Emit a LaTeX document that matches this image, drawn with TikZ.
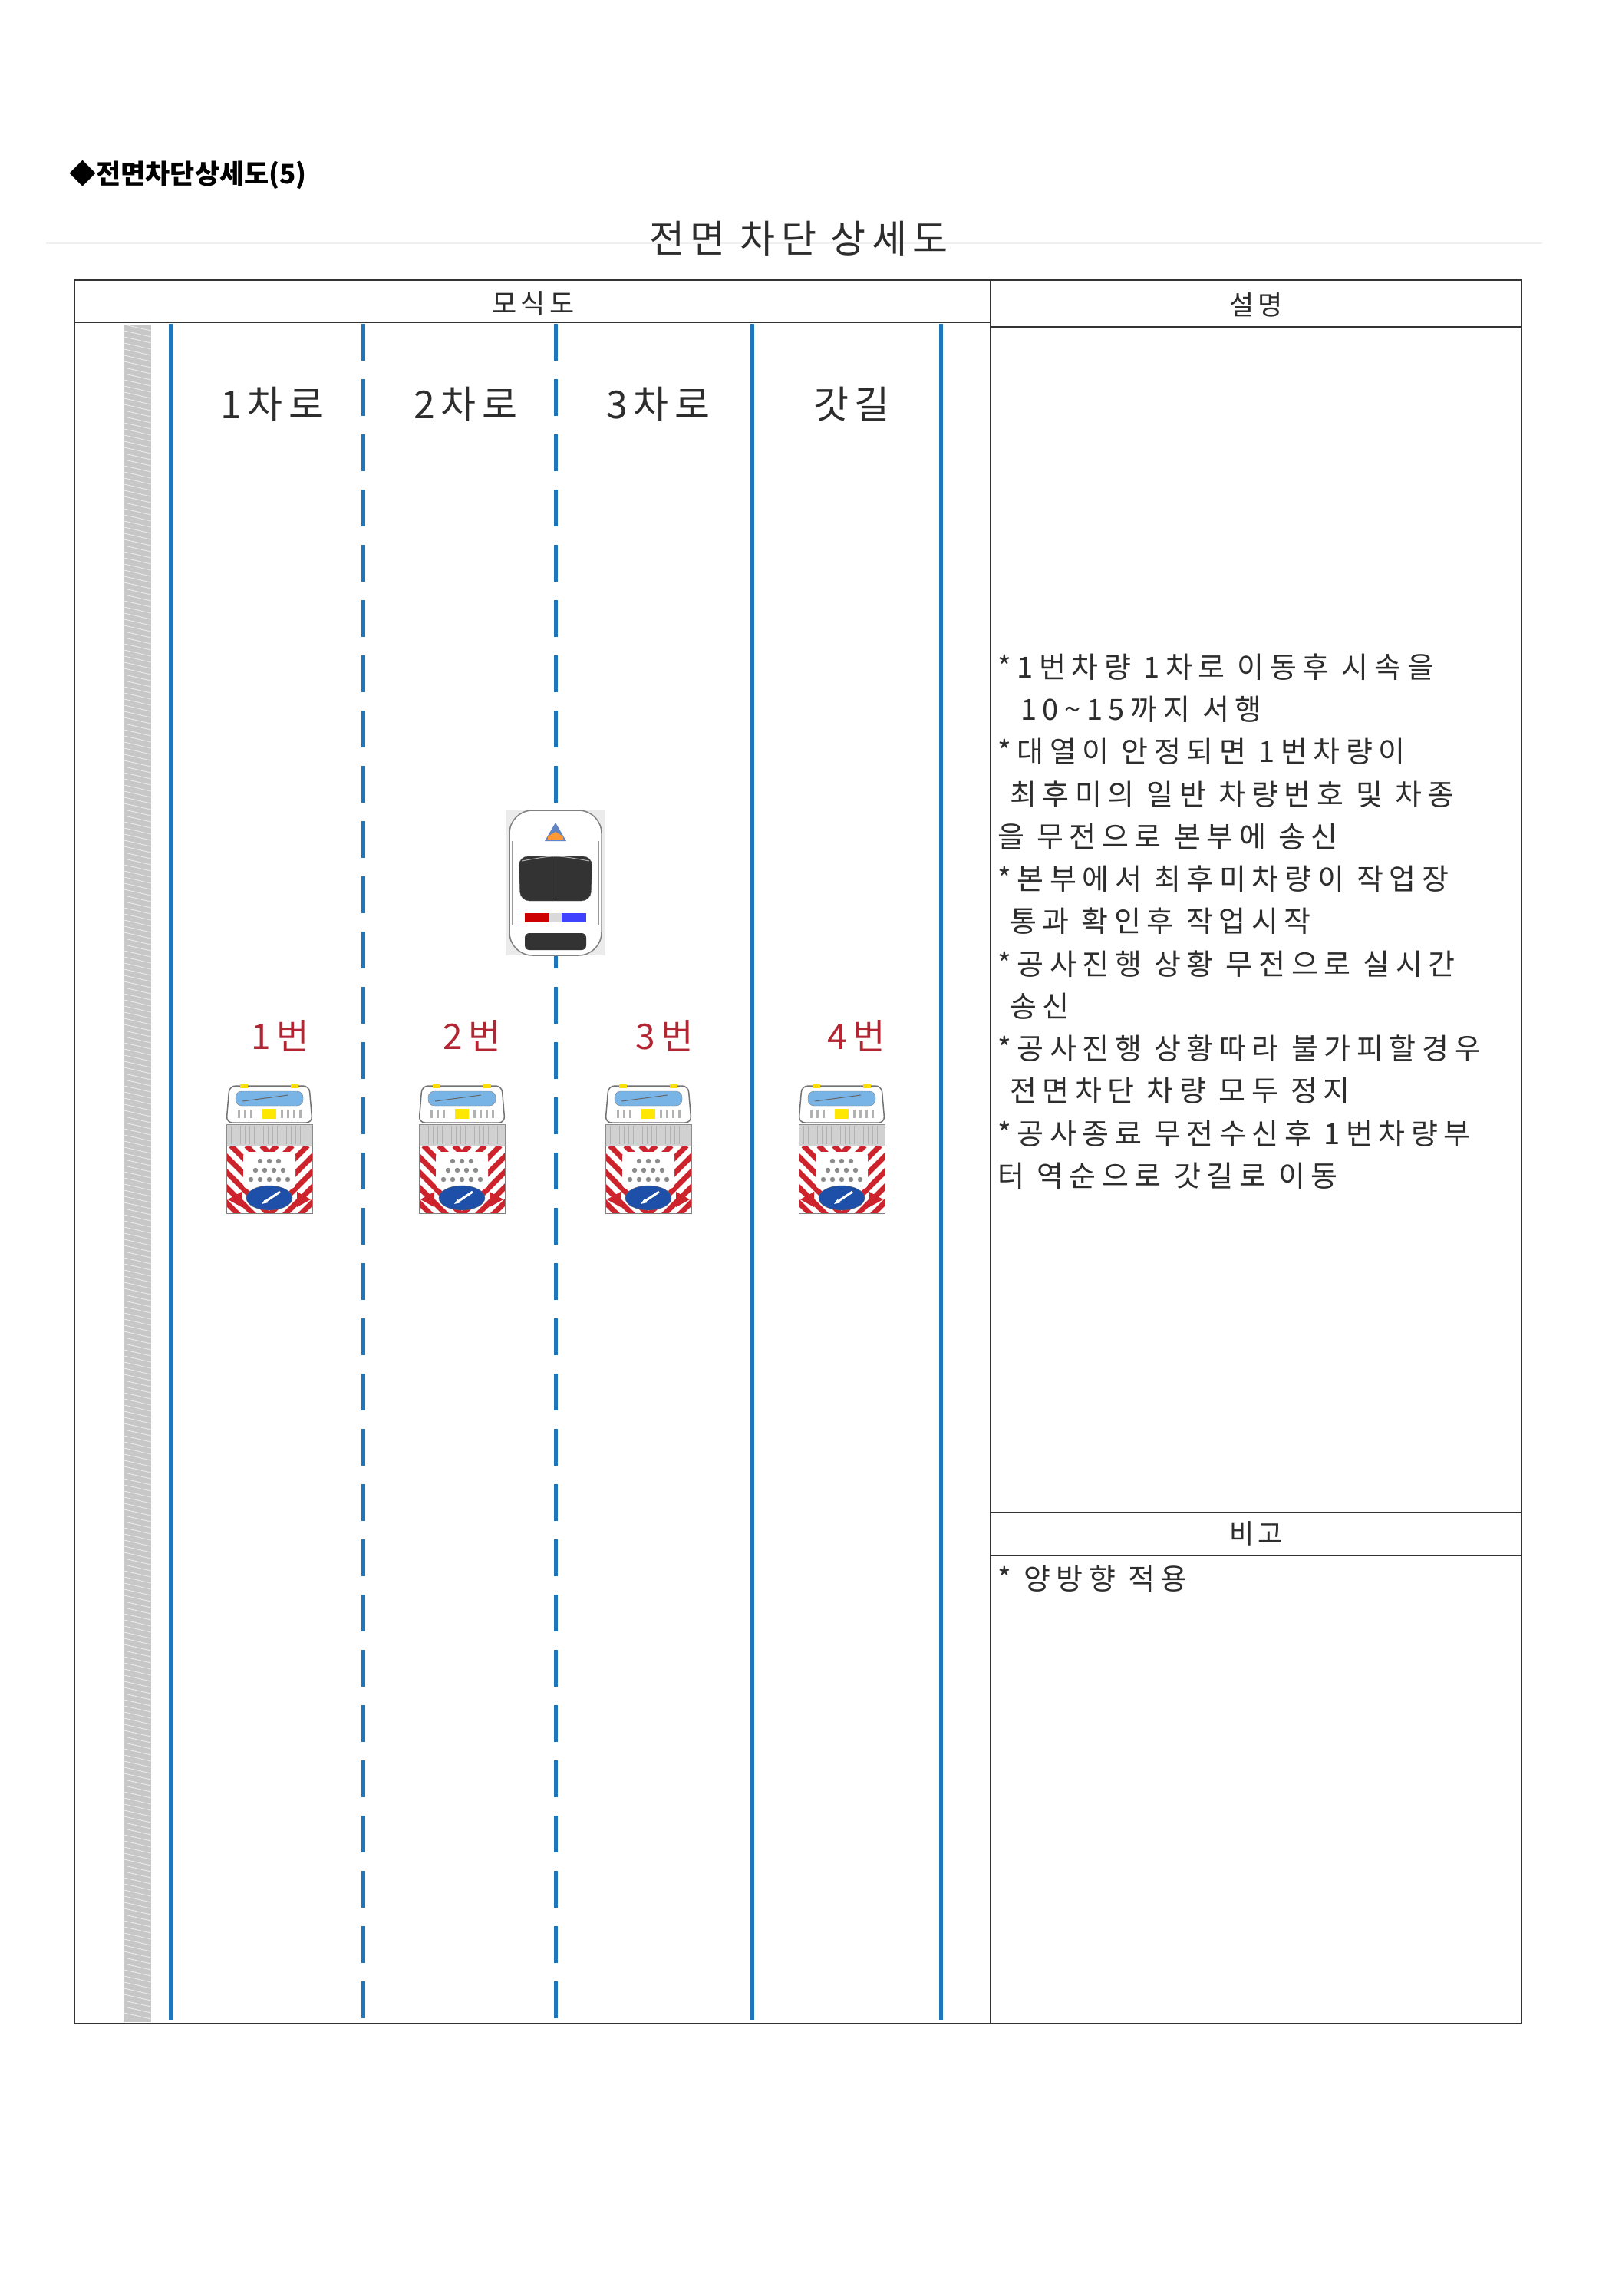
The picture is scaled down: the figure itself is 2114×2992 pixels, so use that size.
\documentclass[tikz,border=0pt]{standalone}
\usepackage{fontspec}
\setmainfont{Noto Sans CJK KR}
\newfontfamily\kr[LetterSpace=15]{Noto Sans CJK KR}
\newfontfamily\krd[LetterSpace=20]{Noto Sans CJK KR}
\newfontfamily\krt{Noto Sans CJK KR}
\usetikzlibrary{arrows.meta}
\definecolor{lane}{RGB}{30,118,188}
\definecolor{txt}{RGB}{45,45,45}
\definecolor{numred}{RGB}{178,38,52}
\definecolor{trkred}{RGB}{205,35,45}
\definecolor{trkblue}{RGB}{30,80,170}
\definecolor{glass}{RGB}{120,180,230}
\tikzset{
  x=1pt,y=-1pt,
  frame/.style={draw=black!80,line width=2.2pt},
  solidlane/.style={draw=lane,line width=5pt},
  dashlane/.style={draw=lane,line width=5pt,dash pattern=on 48pt off 24pt},
  lanelbl/.style={text=txt,font=\kr\fontsize{50}{60}\selectfont},
  numlbl/.style={text=numred,font=\kr\fontsize{46}{55}\selectfont},
  desc/.style={text=txt,anchor=west,inner sep=0pt,font=\krd\fontsize{38}{44}\selectfont},
  hdr/.style={text=txt,font=\kr\fontsize{35}{42}\selectfont},
  truck/.pic={
    \draw[black!55,line width=1.5pt,fill=white,rounded corners=8pt] (-52,2) -- (52,2) -- (56,50) -- (-56,50) -- cycle;
    \fill[yellow!80!orange] (-38,0) rectangle (-28,5);
    \fill[yellow!80!orange] (28,0) rectangle (38,5);
    \draw[black!50,fill=glass,rounded corners=8pt] (-44,9) rectangle (44,28);
    \draw[black!60,line width=1pt] (-35,22) -- (25,14);
    \foreach \t in {-40,-32,-24,16,24,32,40} \fill[black!30] (\t-1.5,33) rectangle (\t+1.5,44);
    \fill[yellow!90!orange] (-9,32) rectangle (9,45);
    \draw[black!45,fill=black!18,line width=1pt] (-56,52) rectangle (56,80);
    \foreach \t in {-50,-44,...,50} \draw[black!30,line width=0.8pt] (\t,54) -- (\t,78);
    \fill[white] (-56,80) rectangle (56,168);
    \begin{scope}
      \clip (-56,80) rectangle (0,168);
      \foreach \i in {-150,-130,...,10} \draw[trkred,line width=7pt] (\i,80) -- ++(100,100);
    \end{scope}
    \begin{scope}
      \clip (0,80) rectangle (56,168);
      \foreach \i in {-10,10,...,150} \draw[trkred,line width=7pt] (\i,80) -- ++(-100,100);
    \end{scope}
    \draw[black!50,line width=1pt] (-56,80) rectangle (56,168);
    \fill[white,rounded corners=6pt] (-34,88) rectangle (34,136);
    \foreach \r/\n in {100/3,112/4,124/5} \foreach \k in {1,...,\n} \fill[black!45] ({-6*(\n+1)+12*\k},\r) circle (3.2);
    \fill[trkred] (-54,150) -- (-36,140) -- (-36,160) -- cycle;
    \fill[trkred] (54,150) -- (36,140) -- (36,160) -- cycle;
    \draw[black!60,fill=trkblue] (0,148) ellipse (30 and 16);
    \draw[white,line width=3pt,-{Stealth[length=8pt]}] (14,140) -- (-10,156);
  },
  policecar/.pic={
    \fill[black!8] (-65,0) rectangle (65,189);
    \draw[black!50,line width=1.5pt,fill=white,rounded corners=30pt] (-60,0) rectangle (60,189);
    \draw[black!40,line width=1.5pt] (-56,40) -- (-56,150);
    \draw[black!40,line width=1.5pt] (56,40) -- (56,150);
    \fill[trkblue!70] (0,16) -- (-14,40) -- (14,40) -- cycle;
    \fill[orange!80] (-10,34) -- (0,28) -- (10,34) -- (10,38) -- (-10,38) -- cycle;
    \draw[black!60,fill=black!80,rounded corners=12pt] (-48,60) -- (48,60) -- (46,118) -- (-46,118) -- cycle;
    \draw[black!50,line width=1pt] (0,62) -- (0,116);
    \draw[white!70!black,line width=1pt] (-44,66) .. controls (0,58) .. (44,66);
    \fill[red!80!black] (-40,134) rectangle (-8,146);
    \fill[black!15] (-8,134) rectangle (8,146);
    \fill[blue!75] (8,134) rectangle (40,146);
    \fill[black!80,rounded corners=6pt] (-40,160) rectangle (40,182);
  }
}
\begin{document}
\begin{tikzpicture}
\useasboundingbox (0,0) rectangle (2114,2992);
\fill[white] (0,0) rectangle (2114,2992);
\node[anchor=west,inner sep=0pt,font=\krt\bfseries\fontsize{35}{42}\selectfont] (ttl) at (90,228) {◆전면차단상세도(5)};
\draw[black!6,line width=2pt] (60,317) -- (2010,317);
\node[text=txt,font=\kr\fontsize{50}{60}\selectfont] (main) at (1041,311) {전면 차단 상세도};
\draw[frame] (97,365) rectangle (1983,2637);
\draw[frame] (97,420) -- (1291,420);
\draw[frame] (1291,426) -- (1983,426);
\draw[frame] (1291,365) -- (1291,2637);
\draw[frame] (1291,1971) -- (1983,1971);
\draw[frame] (1291,2027) -- (1983,2027);
\node[hdr] (h1) at (695,395) {모식도};
\node[hdr] (h2) at (1637,397) {설명};
\node[hdr] (h3) at (1637,1998) {비고};
\node[desc] (note) at (1300,2057) {* 양방향 적용};
\fill[black!22] (162,423) rectangle (197,2635);
\foreach \i in {423,431,...,2627} \draw[white!60!black!15,line width=0.8pt] (162,\i) -- (197,\i+8);
\draw[solidlane] (222,422) -- (222,2632);
\draw[solidlane] (980,422) -- (980,2632);
\draw[solidlane] (1226,422) -- (1226,2632);
\draw[dashlane] (473,422) -- (473,2632);
\draw[dashlane] (724,422) -- (724,2632);
\node[lanelbl] (l1) at (355,527) {1차로};
\node[lanelbl] (l2) at (607,527) {2차로};
\node[lanelbl] (l3) at (858,527) {3차로};
\node[lanelbl] (l4) at (1110,527) {갓길};
\pic at (724,1056) {policecar};
\node[numlbl] (n1) at (365,1350) {1번};
\node[numlbl] (n2) at (615,1350) {2번};
\node[numlbl] (n3) at (866,1350) {3번};
\node[numlbl] (n4) at (1116,1350) {4번};
\pic at (351,1413) {truck};
\pic at (602,1413) {truck};
\pic at (845,1413) {truck};
\pic at (1097,1413) {truck};
\node[desc] (d1) at (1300,869) {*1번차량 1차로 이동후 시속을};
\node[desc] (d2) at (1330,924) {10\char"007E 15까지 서행};
\node[desc] (d3) at (1300,979) {*대열이 안정되면 1번차량이};
\node[desc] (d4) at (1316,1035) {최후미의 일반 차량번호 및 차종};
\node[desc] (d5) at (1300,1090) {을 무전으로 본부에 송신};
\node[desc] (d6) at (1300,1145) {*본부에서 최후미차량이 작업장};
\node[desc] (d7) at (1316,1200) {통과 확인후 작업시작};
\node[desc] (d8) at (1300,1256) {*공사진행 상황 무전으로 실시간};
\node[desc] (d9) at (1316,1311) {송신};
\node[desc] (d10) at (1300,1366) {*공사진행 상황따라 불가피할경우};
\node[desc] (d11) at (1316,1421) {전면차단 차량 모두 정지};
\node[desc] (d12) at (1300,1477) {*공사종료 무전수신후 1번차량부};
\node[desc] (d13) at (1300,1532) {터 역순으로 갓길로 이동};
\end{tikzpicture}
\end{document}
